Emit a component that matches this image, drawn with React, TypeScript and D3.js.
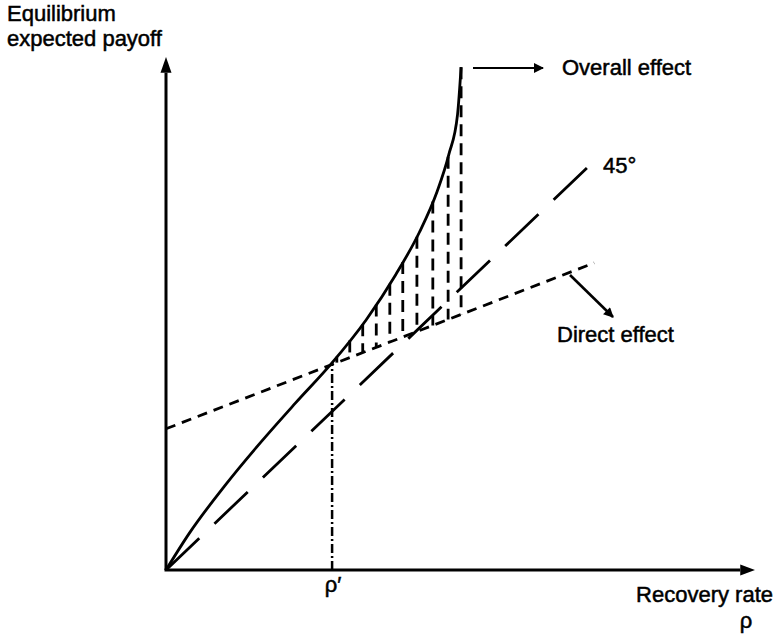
import React from "react";
import * as d3 from "d3";

// Overall effect curve (equilibrium expected payoff vs recovery rate)
const curveRho = [0, 0.04, 0.1, 0.16, 0.22, 0.28, 0.34, 0.39, 0.43, 0.46, 0.48, 0.495, 0.501];
const curvePayoff = [0, 0.066, 0.15, 0.226, 0.297, 0.366, 0.445, 0.525, 0.6, 0.672, 0.738, 0.81, 0.894];

// Direct effect line (endpoints)
const directRho = [0, 0.727];
const directPayoff = [0.251, 0.546];

// 45 degree line (endpoints)
const diagRho = [0, 0.723];
const diagPayoff = [0, 0.723];

// hatch positions between overall effect and direct effect
const hatchRho = [0.29, 0.312, 0.334, 0.357, 0.38, 0.402, 0.426, 0.453, 0.479, 0.501];

// rho prime
const rhoPrime = 0.282;

const W = 776;
const H = 636;
const FONT = "'Liberation Sans', Arial, Helvetica, sans-serif";

export default function App() {
  const x = d3.scaleLinear().domain([0, 1]).range([166, 755]);
  const y = d3.scaleLinear().domain([0, 0.912]).range([570, 57]);

  const line = d3
    .line<[number, number]>()
    .x((d) => x(d[0]))
    .y((d) => y(d[1]));
  const smooth = d3
    .line<[number, number]>()
    .x((d) => x(d[0]))
    .y((d) => y(d[1]))
    .curve(d3.curveMonotoneX);

  const curvePts: [number, number][] = curveRho.map((r, i) => [r, curvePayoff[i]]);
  const curveAt = d3.scaleLinear().domain(curveRho).range(curvePayoff);
  const directAt = d3.scaleLinear().domain(directRho).range(directPayoff);

  const directPts: [number, number][] = directRho.map((r, i) => [r, directPayoff[i]]);
  const diagPts: [number, number][] = diagRho.map((r, i) => [r, diagPayoff[i]]);

  const textStyle: React.CSSProperties = {
    fontFamily: FONT,
    fontSize: 22,
    fill: "#000",
    stroke: "#000",
    strokeWidth: 0.5,
  };

  return (
    <svg
      width={W}
      height={H}
      style={{ position: "absolute", left: 0, top: 0, background: "#fff" }}
    >
      <defs>
        <marker id="ah" viewBox="0 0 10 10" refX="9" refY="5" markerWidth="14" markerHeight="10" markerUnits="userSpaceOnUse" orient="auto">
          <path d="M0,0 L10,5 L0,10 z" fill="#000" />
        </marker>
      </defs>

      {/* axes */}
      <line x1={x(0)} y1={y(0)} x2={x(0)} y2={y(0.884)} stroke="#000" strokeWidth={3} />
      <path d={`M${x(0) - 5.5},${y(0.884)} L${x(0)},${y(0.912)} L${x(0) + 5.5},${y(0.884)} z`} fill="#000" />
      <line x1={x(0) - 1.5} y1={y(0)} x2={x(0.975)} y2={y(0)} stroke="#000" strokeWidth={3} />
      <path d={`M${x(0.975)},${y(0) - 5.5} L${x(1)},${y(0)} L${x(0.975)},${y(0) + 5.5} z`} fill="#000" />

      {/* rho prime dash-dot */}
      <line
        x1={x(rhoPrime)}
        y1={y(0)}
        x2={x(rhoPrime)}
        y2={y(directAt(rhoPrime))}
        stroke="#000"
        strokeWidth={2.5}
        strokeDasharray="9,3,2,3"
      />

      {/* 45 degree line */}
      <path d={line(diagPts) || ""} fill="none" stroke="#000" strokeWidth={2.8} strokeDasharray="46,21" />

      {/* direct effect */}
      <path d={line(directPts) || ""} fill="none" stroke="#000" strokeWidth={2.8} strokeDasharray="10,7" />

      {/* hatch */}
      {hatchRho.map((r, i) => (
        <line
          key={i}
          x1={x(r)}
          x2={x(r)}
          y1={y(Math.min(curveAt(r), curvePayoff[curvePayoff.length - 1]))}
          y2={y(directAt(r))}
          stroke="#000"
          strokeWidth={2.8}
          strokeDasharray="12,7"
        />
      ))}

      {/* overall effect curve */}
      <path d={smooth(curvePts) || ""} fill="none" stroke="#000" strokeWidth={2.8} />

      {/* annotation arrows */}
      <line x1={473} y1={68} x2={543} y2={68} stroke="#000" strokeWidth={2.2} markerEnd="url(#ah)" />
      <line x1={570} y1={275} x2={613} y2={317} stroke="#000" strokeWidth={2.6} markerEnd="url(#ah)" />

      {/* texts */}
      <text x={7} y={21} style={textStyle}>Equilibrium</text>
      <text x={7} y={46} style={textStyle}>expected payoff</text>
      <text x={562} y={75} style={textStyle}>Overall effect</text>
      <text x={603} y={173} style={textStyle}>45°</text>
      <text x={557} y={342} style={textStyle}>Direct effect</text>
      <text x={773} y={602} textAnchor="end" style={textStyle}>Recovery rate</text>
      <text x={746} y={628} textAnchor="middle" style={textStyle}>ρ</text>
      <text x={x(rhoPrime) + 1} y={592} textAnchor="middle" style={textStyle}>ρ′</text>
    </svg>
  );
}
